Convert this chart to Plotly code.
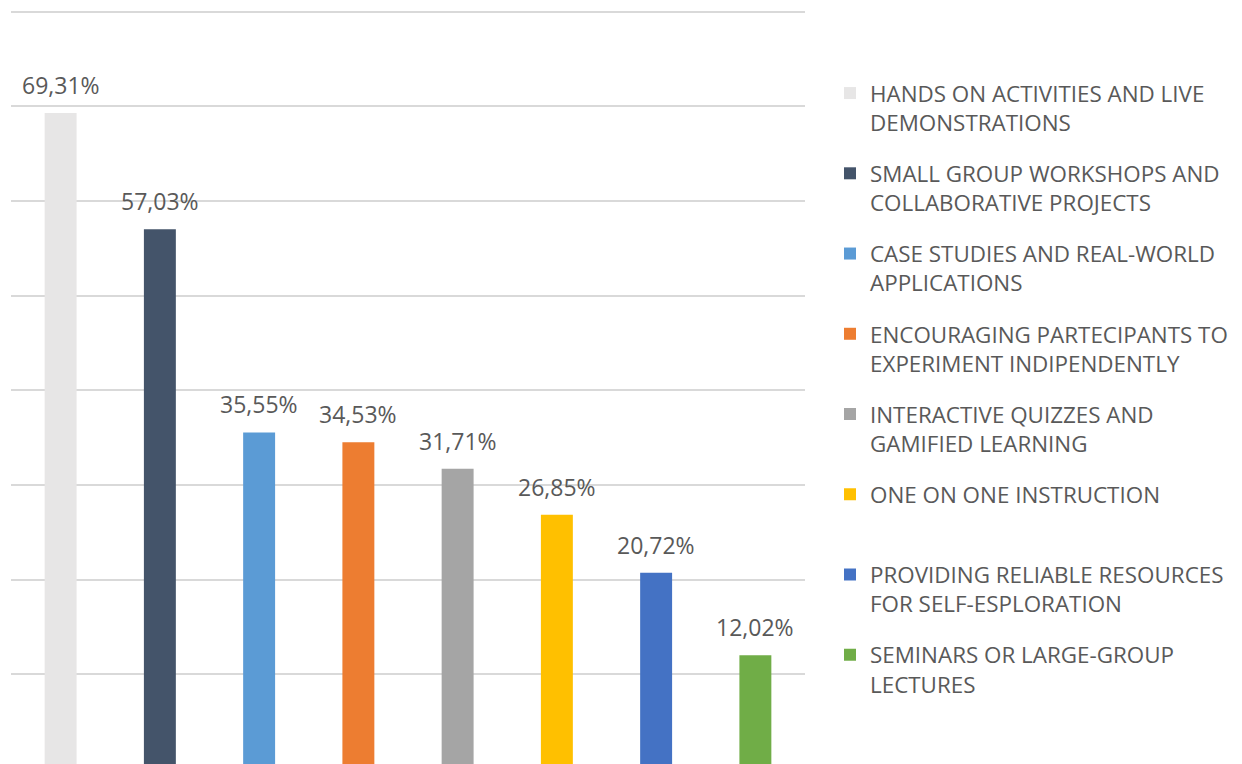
import plotly.graph_objects as go

categories = [
    "HANDS ON ACTIVITIES AND LIVE DEMONSTRATIONS",
    "SMALL GROUP WORKSHOPS AND COLLABORATIVE PROJECTS",
    "CASE STUDIES AND REAL-WORLD APPLICATIONS",
    "ENCOURAGING PARTECIPANTS TO EXPERIMENT INDIPENDENTLY",
    "INTERACTIVE QUIZZES AND GAMIFIED LEARNING",
    "ONE ON ONE INSTRUCTION",
    "PROVIDING RELIABLE RESOURCES FOR SELF-ESPLORATION",
    "SEMINARS OR LARGE-GROUP LECTURES",
]
legend_labels = [
    "HANDS ON ACTIVITIES AND LIVE<br>DEMONSTRATIONS",
    "SMALL GROUP WORKSHOPS AND<br>COLLABORATIVE PROJECTS",
    "CASE STUDIES AND REAL-WORLD<br>APPLICATIONS",
    "ENCOURAGING PARTECIPANTS TO<br>EXPERIMENT INDIPENDENTLY",
    "INTERACTIVE QUIZZES AND<br>GAMIFIED LEARNING",
    "ONE ON ONE INSTRUCTION<br>\u00a0",
    "PROVIDING RELIABLE RESOURCES<br>FOR SELF-ESPLORATION",
    "SEMINARS OR LARGE-GROUP<br>LECTURES",
]
values = [69.31, 57.03, 35.55, 34.53, 31.71, 26.85, 20.72, 12.02]
colors = ["#E7E6E6", "#44546A", "#5B9BD5", "#ED7D31",
          "#A5A5A5", "#FFC000", "#4472C4", "#70AD47"]

FONT = "Open Sans"
# page body has an 8px margin, so the figure is 8px smaller than the window
W, H = 1234, 756

fig = go.Figure()
for i, (cat, lab, val, col) in enumerate(zip(categories, legend_labels, values, colors)):
    fig.add_trace(go.Bar(
        x=[cat], y=[val], name=lab, marker=dict(color=col, line=dict(width=0)),
        width=0.322, legendgroup=f"g{i}", showlegend=True, hoverinfo="skip",
    ))
    fig.add_annotation(
        x=cat, y=val, xref="x", yref="y",
        text=f"{val:.2f}%".replace(".", ","),
        showarrow=False, yanchor="middle", yshift=28,
        font=dict(family=FONT, size=23, color="#595959"),
    )

fig.update_layout(
    width=W, height=H,
    margin=dict(l=3, r=W - 797, t=1, b=0, autoexpand=False),
    paper_bgcolor="white", plot_bgcolor="white",
    barmode="overlay",
    showlegend=True,
    legend=dict(
        xref="container", yref="container",
        x=822 / W, y=1 - 64 / H, xanchor="left", yanchor="top",
        font=dict(family=FONT, size=22.4, color="#595959"),
        tracegroupgap=19, valign="top", itemwidth=30,
        bgcolor="rgba(0,0,0,0)", maxheight=740,
    ),
    xaxis=dict(showticklabels=False, showgrid=False, zeroline=False,
               showline=False, ticks="", fixedrange=True),
    yaxis=dict(range=[0.53, 80.285], dtick=10, tick0=0, showticklabels=False,
               showgrid=True, gridcolor="#D9D9D9", gridwidth=1.5,
               zeroline=False, showline=False, ticks=""),
    font=dict(family=FONT, color="#595959"),
)

fig.write_html("out.html")
